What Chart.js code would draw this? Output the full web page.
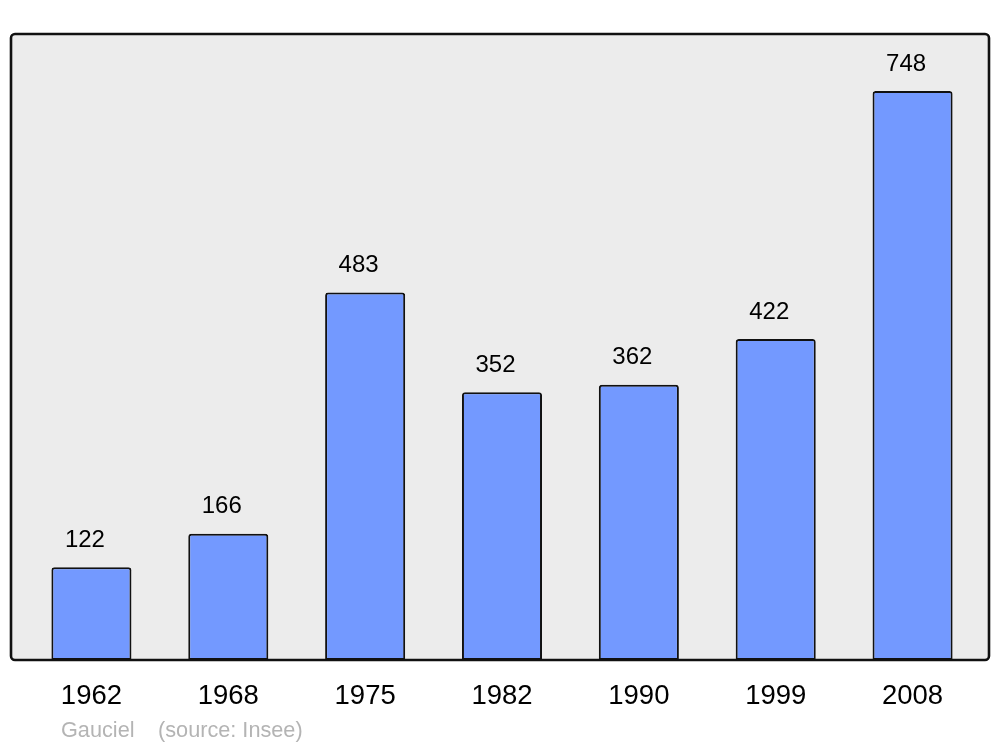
<!DOCTYPE html>
<html>
<head>
<meta charset="utf-8">
<script src="https://cdn.jsdelivr.net/npm/chart.js@4"></script>
<style>
  html, body { margin: 0; padding: 0; background: #ffffff; }
  #wrap { width: 1000px; height: 747px; position: relative; }
</style>
</head>
<body>
<div id="wrap"><canvas id="c" width="1000" height="747"></canvas></div>
<script>
const years = ['1962', '1968', '1975', '1982', '1990', '1999', '2008'];
const population = [122, 166, 483, 352, 362, 422, 748];
const footerAuthor = 'Gauciel';
const footerSource = '(source: Insee)';

const FONT = '"Liberation Sans", Arial, sans-serif';

function roundRect(ctx, x, y, w, h, r) {
  ctx.beginPath();
  ctx.moveTo(x + r, y);
  ctx.lineTo(x + w - r, y);
  ctx.arcTo(x + w, y, x + w, y + r, r);
  ctx.lineTo(x + w, y + h - r);
  ctx.arcTo(x + w, y + h, x + w - r, y + h, r);
  ctx.lineTo(x + r, y + h);
  ctx.arcTo(x, y + h, x, y + h - r, r);
  ctx.lineTo(x, y + r);
  ctx.arcTo(x, y, x + r, y, r);
  ctx.closePath();
}

const frame = {
  id: 'frame',
  beforeDraw(chart) {
    const ctx = chart.ctx;
    ctx.save();
    ctx.fillStyle = '#ffffff';
    ctx.fillRect(0, 0, chart.width, chart.height);
    const top = chart.chartArea.top;
    const bottom = chart.chartArea.bottom;
    roundRect(ctx, 11, top, 978, bottom - top, 4);
    ctx.fillStyle = '#ececec';
    ctx.fill();
    ctx.restore();
  },
  afterDatasetsDraw(chart) {
    const ctx = chart.ctx;
    ctx.save();
    const top = chart.chartArea.top;
    const bottom = chart.chartArea.bottom;
    roundRect(ctx, 11, top, 978, bottom - top, 4);
    ctx.lineWidth = 2.6;
    ctx.strokeStyle = '#111111';
    ctx.stroke();

    // value labels
    const meta = chart.getDatasetMeta(0);
    ctx.fillStyle = '#000000';
    ctx.font = '24px ' + FONT;
    ctx.textAlign = 'center';
    ctx.textBaseline = 'middle';
    meta.data.forEach((bar, i) => {
      ctx.fillText(String(population[i]), bar.x - 6.5, bar.y - 27);
    });

    // footer
    ctx.fillStyle = '#b4b4b4';
    ctx.font = '21.7px ' + FONT;
    ctx.textAlign = 'left';
    ctx.textBaseline = 'alphabetic';
    ctx.fillText(footerAuthor, 61, 737);
    ctx.fillText(footerSource, 158, 737);
    ctx.restore();
  }
};

new Chart(document.getElementById('c'), {
  type: 'bar',
  data: {
    labels: years,
    datasets: [{
      data: population,
      backgroundColor: '#7399ff',
      borderColor: '#111111',
      borderWidth: 2,
      borderRadius: { topLeft: 3, topRight: 3, bottomLeft: 0, bottomRight: 0 },
      borderSkipped: false,
      categoryPercentage: 1.0,
      barPercentage: 0.585
    }]
  },
  options: {
    responsive: false,
    animation: false,
    devicePixelRatio: 1,
    layout: { padding: { left: 23, right: 19, top: 34, bottom: 14 } },
    plugins: { legend: { display: false }, tooltip: { enabled: false } },
    scales: {
      x: {
        display: true,
        grid: { display: false, drawTicks: false },
        border: { display: false },
        ticks: { color: '#000000', font: { family: FONT, size: 27.5 }, padding: 20, maxRotation: 0 }
      },
      y: {
        display: false,
        min: 0,
        max: 823
      }
    }
  },
  plugins: [frame]
});
</script>
</body>
</html>
